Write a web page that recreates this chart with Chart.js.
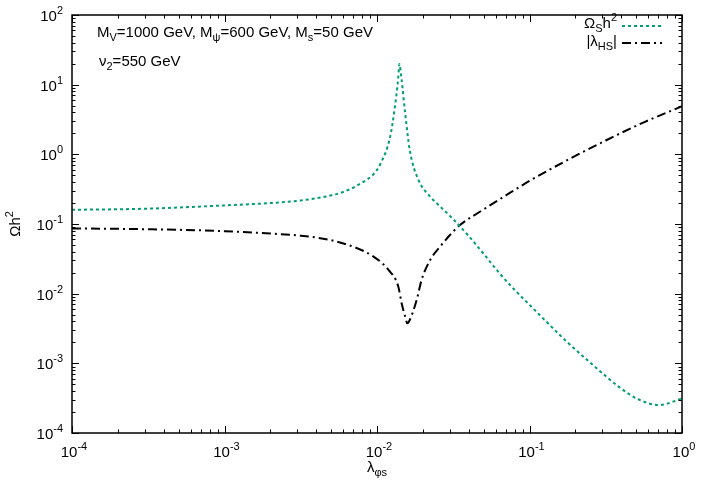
<!DOCTYPE html>
<html>
<head>
<meta charset="utf-8">
<script src="https://cdn.jsdelivr.net/npm/chart.js@4.4.1/dist/chart.umd.min.js"></script>
<style>
  html, body { margin: 0; padding: 0; background: #fff; }
  #wrap { width: 708px; height: 496px; }
</style>
</head>
<body>
<div id="wrap"><canvas id="chart" width="708" height="496"></canvas></div>
<script>
// values (log-log)
const lamOmega = [1e-4, 3.16e-4, 1e-3, 2e-3, 3.16e-3, 4.9e-3, 6.3e-3, 8.1e-3, 0.0095, 0.0105, 0.0122, 0.0131, 0.0138, 0.0140,
                  0.0145, 0.0153, 0.0164, 0.0187, 0.0223, 0.0251, 0.0316, 0.0398, 0.0501, 0.0631, 0.0794, 0.1, 0.126,
                  0.171, 0.256, 0.392, 0.516, 0.71, 0.90, 1.0];
const omegaH2 = [0.160, 0.166, 0.185, 0.200, 0.218, 0.255, 0.30, 0.40, 0.52, 0.72, 1.79, 4.8, 13.0, 19.8,
                 11.7, 3.9, 1.15, 0.43, 0.247, 0.191, 0.117, 0.0676, 0.0372, 0.0200, 0.0115, 0.00692, 0.00417,
                 0.00216, 0.00098, 0.000447, 0.000305, 0.000252, 0.000288, 0.000316];

const lamHS = [1e-4, 3.16e-4, 1e-3, 2e-3, 3.16e-3, 4.9e-3, 7.2e-3, 9.5e-3, 0.0119, 0.0138, 0.0145, 0.0153, 0.0158,
               0.0164, 0.0182, 0.0196, 0.0223, 0.0259, 0.0301, 0.035, 0.0473, 0.0708, 0.1007, 0.178, 0.316, 0.562, 1.0];
const absLambdaHS = [0.0865, 0.084, 0.079, 0.073, 0.068, 0.059, 0.046, 0.034, 0.0219, 0.0126, 0.00728, 0.00468, 0.00376,
                     0.00419, 0.00813, 0.0157, 0.0304, 0.0472, 0.0695, 0.0968, 0.150, 0.261, 0.419, 0.832, 1.58, 2.88, 4.9];

const xDecades = [1e-4, 1e-3, 1e-2, 1e-1, 1];
const xTickExp = ['-4', '-3', '-2', '-1', '0'];
const yDecades = [1e-4, 1e-3, 1e-2, 1e-1, 1, 10, 100];
const yTickExp = ['-4', '-3', '-2', '-1', '0', '1', '2'];

const GREEN = '#009e73';
const FONT = '"Liberation Sans", Arial, Helvetica, sans-serif';

// draw text with sub/superscripts; parts = [[text, 'n'|'sub'|'sup'], ...]
function rich(ctx, parts, x, y, align) {
  const big = '15px ' + FONT, small = '11px ' + FONT;
  let w = 0;
  parts.forEach(p => { ctx.font = p[1] === 'n' ? big : small; w += ctx.measureText(p[0]).width; });
  let cx = align === 'right' ? x - w : align === 'center' ? x - w / 2 : x;
  ctx.textAlign = 'left';
  ctx.textBaseline = 'middle';
  parts.forEach(p => {
    ctx.font = p[1] === 'n' ? big : small;
    const dy = p[1] === 'sub' ? 5 : p[1] === 'sup' ? -6 : 0;
    ctx.fillText(p[0], cx, y + dy);
    cx += ctx.measureText(p[0]).width;
  });
}

const frame = {
  id: 'frame',
  afterDraw(chart) {
    const ctx = chart.ctx, a = chart.chartArea;
    const xs = chart.scales.x, ys = chart.scales.y;
    ctx.save();
    ctx.strokeStyle = '#000';
    ctx.fillStyle = '#000';

    // ticks on all four sides, pointing inward
    ctx.lineWidth = 1;
    ctx.beginPath();
    xDecades.forEach(d => {
      for (let m = 1; m <= 9; m++) {
        const v = d * m;
        if (v > xs.max * 1.0001) break;
        const px = Math.round(xs.getPixelForValue(v)) + 0.5;
        const len = m === 1 ? 7 : 3.5;
        ctx.moveTo(px, a.bottom); ctx.lineTo(px, a.bottom - len);
        ctx.moveTo(px, a.top); ctx.lineTo(px, a.top + len);
      }
    });
    yDecades.forEach(d => {
      for (let m = 1; m <= 9; m++) {
        const v = d * m;
        if (v > ys.max * 1.0001) break;
        const py = Math.round(ys.getPixelForValue(v)) + 0.5;
        const len = m === 1 ? 7 : 3.5;
        ctx.moveTo(a.left, py); ctx.lineTo(a.left + len, py);
        ctx.moveTo(a.right, py); ctx.lineTo(a.right - len, py);
      }
    });
    ctx.stroke();

    ctx.lineWidth = 1.5;
    ctx.strokeRect(a.left, a.top, a.right - a.left, a.bottom - a.top);

    // tick labels
    xDecades.forEach((d, i) => {
      rich(ctx, [['10', 'n'], [xTickExp[i], 'sup']], xs.getPixelForValue(d) + 2, a.bottom + 20, 'center');
    });
    yDecades.forEach((d, i) => {
      rich(ctx, [['10', 'n'], [yTickExp[i], 'sup']], a.left - 9, ys.getPixelForValue(d) + 2, 'right');
    });

    // axis titles
    rich(ctx, [['λ', 'n'], ['φs', 'sub']], (a.left + a.right) / 2, a.bottom + 35, 'center');
    ctx.save();
    ctx.translate(16, (a.top + a.bottom) / 2);
    ctx.rotate(-Math.PI / 2);
    rich(ctx, [['Ωh', 'n'], ['2', 'sup']], 0, 0, 'center');
    ctx.restore();

    // annotations
    rich(ctx, [['M', 'n'], ['V', 'sub'], ['=1000 GeV, M', 'n'], ['ψ', 'sub'], ['=600 GeV, M', 'n'], ['s', 'sub'], ['=50 GeV', 'n']], 97, 33, 'left');
    rich(ctx, [['ν', 'n'], ['2', 'sub'], ['=550 GeV', 'n']], 99, 62, 'left');

    // legend
    rich(ctx, [['Ω', 'n'], ['S', 'sub'], ['h', 'n'], ['2', 'sup']], 617, 24, 'right');
    rich(ctx, [['|λ', 'n'], ['HS', 'sub'], ['|', 'n']], 617, 42, 'right');
    ctx.lineWidth = 2;
    ctx.strokeStyle = GREEN;
    ctx.setLineDash([3, 3]);
    ctx.beginPath(); ctx.moveTo(622, 26); ctx.lineTo(662, 26); ctx.stroke();
    ctx.strokeStyle = '#000';
    ctx.setLineDash([9, 4, 2, 4]);
    ctx.beginPath(); ctx.moveTo(622, 43); ctx.lineTo(662, 43); ctx.stroke();
    ctx.restore();
  }
};

const omegaPts = lamOmega.map((x, i) => ({ x: x, y: omegaH2[i] }));
const hsPts = lamHS.map((x, i) => ({ x: x, y: absLambdaHS[i] }));

new Chart(document.getElementById('chart'), {
  type: 'line',
  data: {
    datasets: [
      {
        label: 'Ωsh2',
        data: omegaPts,
        borderColor: GREEN,
        borderWidth: 2,
        borderDash: [3, 3],
        pointRadius: 0,
        fill: false,
        cubicInterpolationMode: 'monotone'
      },
      {
        label: '|λHS|',
        data: hsPts,
        borderColor: '#000',
        borderWidth: 2,
        borderDash: [9, 4, 2, 4],
        pointRadius: 0,
        fill: false,
        cubicInterpolationMode: 'monotone'
      }
    ]
  },
  options: {
    responsive: false,
    animation: false,
    devicePixelRatio: 1,
    layout: { padding: { left: 72, top: 15, right: 26, bottom: 63 } },
    plugins: { legend: { display: false }, tooltip: { enabled: false } },
    scales: {
      x: { type: 'logarithmic', min: 1e-4, max: 1, display: false },
      y: { type: 'logarithmic', min: 1e-4, max: 100, display: false }
    }
  },
  plugins: [frame]
});
</script>
</body>
</html>
